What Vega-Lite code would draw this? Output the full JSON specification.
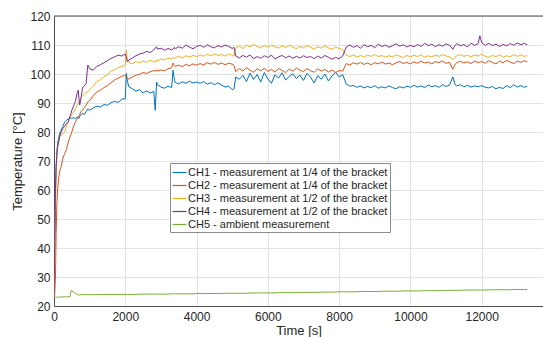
{
  "$schema": "https://vega.github.io/schema/vega-lite/v6.json",
  "width": 489,
  "height": 290,
  "autosize": {"type": "none"},
  "padding": {"left": 54, "top": 16, "right": 0, "bottom": 31},
  "background": "white",
  "config": {"view": {"stroke": null}, "font": "Liberation Sans"},
  "datasets": {
    "meas": [
      {"t":0,"CH1":23,"CH2":23,"CH3":23,"CH4":23,"CH5":23},
      {"t":20,"CH1":40,"CH2":24,"CH3":35,"CH4":40,"CH5":23},
      {"t":40,"CH1":58,"CH2":30,"CH3":55,"CH4":60,"CH5":23},
      {"t":60,"CH1":68,"CH2":45,"CH3":66,"CH4":68,"CH5":23.1},
      {"t":80,"CH1":73,"CH2":55,"CH3":72,"CH4":72,"CH5":23},
      {"t":100,"CH1":76,"CH2":60,"CH3":74.5,"CH4":74.9,"CH5":23.1},
      {"t":130,"CH1":78,"CH2":64,"CH3":76.5,"CH4":76.5,"CH5":23},
      {"t":160,"CH1":79.5,"CH2":66.5,"CH3":78.3,"CH4":78.5,"CH5":23.1},
      {"t":200,"CH1":80.5,"CH2":68,"CH3":79,"CH4":80,"CH5":23.1},
      {"t":250,"CH1":82,"CH2":71,"CH3":79.5,"CH4":81.2,"CH5":23.1},
      {"t":300,"CH1":83.5,"CH2":72.6,"CH3":80,"CH4":82,"CH5":23.2},
      {"t":350,"CH1":84,"CH2":74,"CH3":82,"CH4":83,"CH5":23.1},
      {"t":400,"CH1":84.5,"CH2":76.5,"CH3":83.5,"CH4":83.5,"CH5":23.2},
      {"t":450,"CH1":85,"CH2":78.3,"CH3":85,"CH4":85.5,"CH5":23.2},
      {"t":480,"CH1":84.8,"CH2":79.2,"CH3":85.5,"CH4":86.5,"CH5":25.3},
      {"t":500,"CH1":84.7,"CH2":80,"CH3":86,"CH4":87.5,"CH5":25.2},
      {"t":550,"CH1":85,"CH2":82,"CH3":86.8,"CH4":89,"CH5":24.8},
      {"t":600,"CH1":84.5,"CH2":83.5,"CH3":88,"CH4":90.5,"CH5":24.4},
      {"t":650,"CH1":85.2,"CH2":84.5,"CH3":89.3,"CH4":93.5,"CH5":24.0},
      {"t":680,"CH1":85.0,"CH2":85.0,"CH3":89.8,"CH4":94.4,"CH5":23.8},
      {"t":700,"CH1":84.7,"CH2":85.5,"CH3":90.5,"CH4":91.5,"CH5":23.7},
      {"t":720,"CH1":85.3,"CH2":86.0,"CH3":91.0,"CH4":89.3,"CH5":23.8},
      {"t":750,"CH1":86,"CH2":87,"CH3":91.8,"CH4":91,"CH5":24.0},
      {"t":800,"CH1":86.4,"CH2":87.5,"CH3":92.5,"CH4":95.2,"CH5":23.9},
      {"t":850,"CH1":86,"CH2":88.5,"CH3":93.0,"CH4":95.9,"CH5":23.9},
      {"t":900,"CH1":87,"CH2":89.3,"CH3":93.6,"CH4":96.7,"CH5":23.9},
      {"t":950,"CH1":88,"CH2":90.4,"CH3":93.9,"CH4":103.1,"CH5":23.9},
      {"t":1000,"CH1":87.5,"CH2":90.8,"CH3":94.5,"CH4":101.8,"CH5":23.9},
      {"t":1100,"CH1":88.3,"CH2":92.5,"CH3":95.8,"CH4":101.3,"CH5":23.9},
      {"t":1200,"CH1":88.9,"CH2":93.8,"CH3":97.4,"CH4":102.6,"CH5":23.9},
      {"t":1300,"CH1":88.6,"CH2":94.4,"CH3":98.0,"CH4":103.2,"CH5":24.0},
      {"t":1400,"CH1":89.5,"CH2":95.3,"CH3":99.0,"CH4":103.9,"CH5":24.0},
      {"t":1500,"CH1":89.2,"CH2":96.0,"CH3":99.8,"CH4":104.6,"CH5":24.0},
      {"t":1600,"CH1":90.1,"CH2":97.0,"CH3":101.0,"CH4":105.4,"CH5":24.0},
      {"t":1700,"CH1":90.6,"CH2":97.9,"CH3":101.5,"CH4":105.9,"CH5":24.0},
      {"t":1800,"CH1":90.2,"CH2":98.6,"CH3":102.2,"CH4":106.5,"CH5":24.0},
      {"t":1900,"CH1":91.3,"CH2":99.2,"CH3":102.6,"CH4":106.2,"CH5":24.0},
      {"t":2000,"CH1":91.5,"CH2":99.5,"CH3":103.1,"CH4":106.9,"CH5":24.0},
      {"t":2030,"CH1":100.2,"CH2":99.0,"CH3":108.3,"CH4":105.6,"CH5":24.0},
      {"t":2060,"CH1":97.5,"CH2":98.6,"CH3":104.6,"CH4":104.2,"CH5":24.0},
      {"t":2100,"CH1":95.6,"CH2":98.2,"CH3":104.0,"CH4":104.8,"CH5":24.0},
      {"t":2200,"CH1":94.9,"CH2":99.0,"CH3":103.5,"CH4":105.5,"CH5":24.0},
      {"t":2300,"CH1":94.1,"CH2":99.6,"CH3":104.3,"CH4":106.3,"CH5":24.0},
      {"t":2400,"CH1":94.6,"CH2":99.9,"CH3":103.8,"CH4":106.9,"CH5":24.1},
      {"t":2500,"CH1":93.5,"CH2":100.5,"CH3":104.5,"CH4":107.2,"CH5":24.1},
      {"t":2600,"CH1":94.2,"CH2":100.2,"CH3":104.0,"CH4":107.8,"CH5":24.1},
      {"t":2700,"CH1":93.4,"CH2":100.8,"CH3":104.8,"CH4":107.4,"CH5":24.1},
      {"t":2800,"CH1":94.0,"CH2":101.2,"CH3":104.3,"CH4":108.3,"CH5":24.1},
      {"t":2840,"CH1":87.5,"CH2":100.9,"CH3":104.0,"CH4":108.9,"CH5":24.1},
      {"t":2880,"CH1":97.2,"CH2":101.5,"CH3":104.9,"CH4":109.4,"CH5":24.1},
      {"t":2900,"CH1":96.3,"CH2":101.0,"CH3":104.5,"CH4":108.6,"CH5":24.1},
      {"t":3000,"CH1":95.5,"CH2":101.4,"CH3":105.2,"CH4":108.9,"CH5":24.1},
      {"t":3100,"CH1":95.1,"CH2":101.1,"CH3":104.8,"CH4":108.2,"CH5":24.1},
      {"t":3200,"CH1":95.8,"CH2":101.8,"CH3":105.5,"CH4":108.8,"CH5":24.1},
      {"t":3300,"CH1":95.3,"CH2":102.2,"CH3":105.2,"CH4":108.3,"CH5":24.2},
      {"t":3340,"CH1":101.3,"CH2":103.8,"CH3":105.8,"CH4":108.6,"CH5":24.2},
      {"t":3380,"CH1":97.9,"CH2":102.9,"CH3":105.3,"CH4":109.2,"CH5":24.2},
      {"t":3400,"CH1":97.1,"CH2":102.6,"CH3":105.6,"CH4":108.7,"CH5":24.2},
      {"t":3500,"CH1":96.6,"CH2":103.1,"CH3":106.1,"CH4":109.4,"CH5":24.2},
      {"t":3600,"CH1":97.3,"CH2":102.5,"CH3":105.5,"CH4":108.9,"CH5":24.2},
      {"t":3700,"CH1":96.8,"CH2":103.3,"CH3":106.3,"CH4":110.0,"CH5":24.2},
      {"t":3800,"CH1":97.5,"CH2":102.8,"CH3":105.8,"CH4":109.3,"CH5":24.2},
      {"t":3900,"CH1":96.9,"CH2":103.5,"CH3":106.4,"CH4":108.7,"CH5":24.2},
      {"t":4000,"CH1":97.2,"CH2":103.0,"CH3":106.0,"CH4":109.5,"CH5":24.3},
      {"t":4100,"CH1":96.8,"CH2":103.6,"CH3":106.6,"CH4":109.9,"CH5":24.3},
      {"t":4200,"CH1":97.4,"CH2":103.1,"CH3":106.1,"CH4":109.2,"CH5":24.3},
      {"t":4300,"CH1":96.5,"CH2":103.9,"CH3":106.8,"CH4":110.1,"CH5":24.3},
      {"t":4400,"CH1":97.0,"CH2":103.4,"CH3":106.3,"CH4":109.4,"CH5":24.3},
      {"t":4500,"CH1":96.3,"CH2":104.0,"CH3":106.9,"CH4":109.0,"CH5":24.3},
      {"t":4600,"CH1":96.9,"CH2":103.3,"CH3":106.4,"CH4":109.8,"CH5":24.3},
      {"t":4700,"CH1":96.2,"CH2":103.8,"CH3":106.7,"CH4":109.3,"CH5":24.3},
      {"t":4800,"CH1":95.5,"CH2":103.2,"CH3":106.2,"CH4":110.0,"CH5":24.4},
      {"t":4900,"CH1":95.8,"CH2":103.7,"CH3":106.8,"CH4":109.5,"CH5":24.4},
      {"t":5000,"CH1":94.6,"CH2":103.4,"CH3":106.5,"CH4":108.8,"CH5":24.4},
      {"t":5050,"CH1":94.9,"CH2":103.0,"CH3":106.1,"CH4":109.2,"CH5":24.4},
      {"t":5100,"CH1":99.0,"CH2":100.8,"CH3":109.0,"CH4":106.2,"CH5":24.4},
      {"t":5200,"CH1":98.2,"CH2":101.9,"CH3":109.6,"CH4":105.5,"CH5":24.4},
      {"t":5300,"CH1":99.5,"CH2":101.0,"CH3":108.8,"CH4":106.4,"CH5":24.4},
      {"t":5400,"CH1":97.4,"CH2":102.2,"CH3":109.9,"CH4":105.8,"CH5":24.4},
      {"t":5500,"CH1":100.3,"CH2":101.3,"CH3":109.3,"CH4":106.6,"CH5":24.5},
      {"t":5600,"CH1":98.1,"CH2":100.6,"CH3":110.2,"CH4":105.3,"CH5":24.5},
      {"t":5700,"CH1":99.8,"CH2":101.8,"CH3":109.5,"CH4":106.0,"CH5":24.5},
      {"t":5800,"CH1":97.2,"CH2":101.1,"CH3":109.0,"CH4":105.4,"CH5":24.5},
      {"t":5900,"CH1":100.5,"CH2":102.0,"CH3":109.8,"CH4":106.3,"CH5":24.5},
      {"t":6000,"CH1":98.3,"CH2":100.9,"CH3":109.2,"CH4":105.7,"CH5":24.5},
      {"t":6100,"CH1":96.8,"CH2":101.6,"CH3":110.0,"CH4":106.5,"CH5":24.5},
      {"t":6200,"CH1":99.7,"CH2":100.7,"CH3":109.4,"CH4":105.2,"CH5":24.5},
      {"t":6300,"CH1":98.6,"CH2":101.9,"CH3":108.9,"CH4":105.9,"CH5":24.6},
      {"t":6400,"CH1":100.4,"CH2":101.2,"CH3":109.7,"CH4":106.4,"CH5":24.6},
      {"t":6500,"CH1":97.9,"CH2":100.5,"CH3":109.1,"CH4":105.6,"CH5":24.6},
      {"t":6600,"CH1":99.2,"CH2":101.7,"CH3":109.9,"CH4":106.2,"CH5":24.6},
      {"t":6700,"CH1":100.1,"CH2":101.0,"CH3":109.3,"CH4":105.4,"CH5":24.6},
      {"t":6800,"CH1":98.4,"CH2":102.1,"CH3":108.7,"CH4":106.1,"CH5":24.6},
      {"t":6900,"CH1":99.6,"CH2":101.3,"CH3":109.5,"CH4":105.5,"CH5":24.7},
      {"t":7000,"CH1":97.8,"CH2":100.8,"CH3":109.0,"CH4":106.3,"CH5":24.7},
      {"t":7100,"CH1":100.2,"CH2":101.9,"CH3":109.8,"CH4":105.7,"CH5":24.7},
      {"t":7200,"CH1":98.9,"CH2":101.1,"CH3":109.2,"CH4":106.0,"CH5":24.7},
      {"t":7300,"CH1":96.9,"CH2":100.6,"CH3":108.6,"CH4":105.3,"CH5":24.7},
      {"t":7400,"CH1":99.4,"CH2":101.8,"CH3":109.4,"CH4":106.2,"CH5":24.7},
      {"t":7500,"CH1":98.2,"CH2":101.0,"CH3":108.9,"CH4":105.5,"CH5":24.8},
      {"t":7600,"CH1":100.0,"CH2":101.6,"CH3":109.7,"CH4":106.4,"CH5":24.8},
      {"t":7700,"CH1":97.6,"CH2":100.7,"CH3":109.0,"CH4":105.8,"CH5":24.8},
      {"t":7800,"CH1":99.3,"CH2":101.4,"CH3":108.5,"CH4":105.1,"CH5":24.8},
      {"t":7900,"CH1":100.6,"CH2":100.5,"CH3":109.3,"CH4":105.7,"CH5":24.8},
      {"t":8000,"CH1":99.0,"CH2":101.2,"CH3":108.8,"CH4":105.3,"CH5":24.9},
      {"t":8100,"CH1":99.8,"CH2":101.0,"CH3":108.4,"CH4":106.2,"CH5":24.9},
      {"t":8200,"CH1":96.6,"CH2":103.6,"CH3":106.5,"CH4":109.3,"CH5":24.9},
      {"t":8300,"CH1":95.8,"CH2":103.1,"CH3":106.0,"CH4":110.0,"CH5":24.9},
      {"t":8400,"CH1":96.1,"CH2":103.9,"CH3":106.6,"CH4":109.2,"CH5":24.9},
      {"t":8500,"CH1":95.4,"CH2":103.4,"CH3":105.8,"CH4":109.8,"CH5":24.9},
      {"t":8600,"CH1":95.9,"CH2":104.0,"CH3":106.4,"CH4":108.9,"CH5":25.0},
      {"t":8700,"CH1":95.2,"CH2":103.3,"CH3":105.9,"CH4":110.1,"CH5":25.0},
      {"t":8800,"CH1":95.7,"CH2":103.8,"CH3":106.5,"CH4":109.4,"CH5":25.0},
      {"t":8900,"CH1":95.3,"CH2":103.2,"CH3":106.1,"CH4":109.9,"CH5":25.0},
      {"t":9000,"CH1":96.0,"CH2":103.9,"CH3":106.7,"CH4":109.1,"CH5":25.0},
      {"t":9100,"CH1":95.1,"CH2":103.5,"CH3":106.0,"CH4":110.3,"CH5":25.0},
      {"t":9200,"CH1":95.6,"CH2":104.1,"CH3":106.4,"CH4":109.5,"CH5":25.1},
      {"t":9300,"CH1":95.2,"CH2":103.4,"CH3":105.8,"CH4":110.0,"CH5":25.1},
      {"t":9400,"CH1":95.9,"CH2":103.8,"CH3":106.3,"CH4":109.2,"CH5":25.1},
      {"t":9500,"CH1":95.3,"CH2":103.2,"CH3":105.9,"CH4":109.8,"CH5":25.1},
      {"t":9600,"CH1":94.9,"CH2":103.9,"CH3":106.6,"CH4":110.4,"CH5":25.1},
      {"t":9700,"CH1":95.6,"CH2":104.3,"CH3":106.1,"CH4":109.6,"CH5":25.1},
      {"t":9800,"CH1":95.2,"CH2":103.6,"CH3":105.7,"CH4":110.1,"CH5":25.2},
      {"t":9900,"CH1":95.8,"CH2":104.0,"CH3":106.4,"CH4":109.3,"CH5":25.2},
      {"t":10000,"CH1":95.4,"CH2":103.5,"CH3":105.9,"CH4":109.9,"CH5":25.2},
      {"t":10100,"CH1":96.1,"CH2":104.2,"CH3":106.5,"CH4":109.4,"CH5":25.2},
      {"t":10200,"CH1":95.5,"CH2":103.7,"CH3":106.0,"CH4":110.2,"CH5":25.2},
      {"t":10300,"CH1":95.9,"CH2":104.4,"CH3":106.6,"CH4":109.5,"CH5":25.2},
      {"t":10400,"CH1":95.3,"CH2":103.8,"CH3":105.8,"CH4":110.6,"CH5":25.3},
      {"t":10500,"CH1":96.2,"CH2":104.1,"CH3":106.3,"CH4":109.8,"CH5":25.3},
      {"t":10600,"CH1":95.6,"CH2":103.5,"CH3":105.9,"CH4":110.3,"CH5":25.3},
      {"t":10700,"CH1":96.0,"CH2":104.3,"CH3":106.5,"CH4":109.4,"CH5":25.3},
      {"t":10800,"CH1":95.4,"CH2":103.9,"CH3":106.1,"CH4":110.1,"CH5":25.3},
      {"t":10900,"CH1":96.3,"CH2":104.5,"CH3":106.7,"CH4":109.6,"CH5":25.3},
      {"t":11000,"CH1":95.7,"CH2":103.7,"CH3":106.2,"CH4":110.4,"CH5":25.4},
      {"t":11100,"CH1":96.2,"CH2":104.0,"CH3":106.0,"CH4":109.9,"CH5":25.4},
      {"t":11190,"CH1":99.0,"CH2":101.6,"CH3":105.0,"CH4":108.5,"CH5":25.4},
      {"t":11250,"CH1":96.4,"CH2":103.2,"CH3":105.8,"CH4":109.8,"CH5":25.4},
      {"t":11300,"CH1":95.9,"CH2":103.9,"CH3":106.2,"CH4":110.5,"CH5":25.4},
      {"t":11400,"CH1":96.3,"CH2":104.4,"CH3":106.7,"CH4":109.7,"CH5":25.4},
      {"t":11500,"CH1":95.6,"CH2":103.8,"CH3":106.1,"CH4":110.2,"CH5":25.5},
      {"t":11600,"CH1":96.1,"CH2":104.2,"CH3":106.5,"CH4":109.3,"CH5":25.5},
      {"t":11700,"CH1":95.5,"CH2":103.6,"CH3":105.9,"CH4":110.6,"CH5":25.5},
      {"t":11800,"CH1":95.9,"CH2":104.5,"CH3":106.6,"CH4":109.9,"CH5":25.5},
      {"t":11900,"CH1":95.6,"CH2":103.9,"CH3":106.2,"CH4":110.5,"CH5":25.5},
      {"t":11950,"CH1":95.8,"CH2":104.1,"CH3":106.5,"CH4":113.2,"CH5":25.5},
      {"t":12000,"CH1":96.0,"CH2":104.3,"CH3":106.8,"CH4":110.8,"CH5":25.5},
      {"t":12100,"CH1":95.4,"CH2":103.7,"CH3":106.1,"CH4":109.9,"CH5":25.5},
      {"t":12200,"CH1":95.2,"CH2":104.6,"CH3":105.7,"CH4":110.6,"CH5":25.6},
      {"t":12300,"CH1":95.7,"CH2":104.0,"CH3":106.4,"CH4":109.8,"CH5":25.6},
      {"t":12400,"CH1":94.9,"CH2":103.5,"CH3":106.0,"CH4":110.3,"CH5":25.6},
      {"t":12500,"CH1":95.4,"CH2":104.4,"CH3":106.6,"CH4":109.5,"CH5":25.6},
      {"t":12600,"CH1":95.0,"CH2":103.9,"CH3":105.8,"CH4":110.2,"CH5":25.6},
      {"t":12700,"CH1":96.0,"CH2":104.7,"CH3":106.3,"CH4":109.7,"CH5":25.6},
      {"t":12800,"CH1":95.3,"CH2":104.1,"CH3":105.9,"CH4":110.5,"CH5":25.6},
      {"t":12900,"CH1":96.3,"CH2":103.6,"CH3":106.7,"CH4":109.9,"CH5":25.7},
      {"t":13000,"CH1":95.5,"CH2":104.5,"CH3":106.1,"CH4":110.7,"CH5":25.7},
      {"t":13100,"CH1":96.0,"CH2":104.0,"CH3":106.6,"CH4":110.1,"CH5":25.7},
      {"t":13200,"CH1":95.4,"CH2":104.6,"CH3":106.0,"CH4":110.6,"CH5":25.7},
      {"t":13280,"CH1":95.8,"CH2":104.2,"CH3":106.4,"CH4":110.0,"CH5":25.7}
    ],
    "frame": [{"top": 120}]
  },
  "layer": [
    {
      "data": {"name": "meas"},
      "transform": [{"fold": ["CH1", "CH2", "CH3", "CH4", "CH5"], "as": ["series", "value"]}],
      "mark": {"type": "line", "strokeWidth": 1, "clip": true},
      "encoding": {
        "x": {
          "field": "t", "type": "quantitative",
          "scale": {"domain": [0, 13720], "nice": false},
          "axis": {
            "title": "Time [s]", "values": [0, 2000, 4000, 6000, 8000, 10000, 12000],
            "format": "d", "labelOverlap": false,
            "grid": true, "gridColor": "#e2e2e2", "domainColor": "#4d4d4d",
            "ticks": false, "labelFontSize": 12, "labelColor": "#262626",
            "labelPadding": 5, "titleFontSize": 13, "titleFontWeight": "normal",
            "titleColor": "#262626", "titlePadding": 2, "labelFlush": false
          }
        },
        "y": {
          "field": "value", "type": "quantitative",
          "scale": {"domain": [20, 120], "nice": false, "zero": false},
          "axis": {
            "title": "Temperature [°C]", "values": [20, 30, 40, 50, 60, 70, 80, 90, 100, 110, 120],
            "format": "d", "labelOverlap": false,
            "grid": true, "gridColor": "#e2e2e2", "domainColor": "#4d4d4d",
            "ticks": false, "labelFontSize": 12, "labelColor": "#262626",
            "labelPadding": 4, "titleFontSize": 13, "titleFontWeight": "normal",
            "titleColor": "#262626", "titlePadding": 5, "labelFlush": false
          }
        },
        "color": {
          "field": "series", "type": "nominal",
          "scale": {
            "domain": ["CH1", "CH2", "CH3", "CH4", "CH5"],
            "range": ["#0072BD", "#D95319", "#EDB120", "#7E2F8E", "#77AC30"]
          },
          "legend": {
            "orient": "none", "legendX": 116, "legendY": 147,
            "title": null, "symbolType": "stroke", "symbolSize": 190,
            "symbolStrokeWidth": 1.2, "labelFontSize": 11, "labelColor": "#262626",
            "labelOffset": 1, "labelLimit": 400, "rowPadding": 0, "padding": 2,
            "strokeColor": "#8c8c8c", "fillColor": "white",
            "labelExpr": "datum.label == 'CH1' ? 'CH1 - measurement at 1/4 of the bracket' : datum.label == 'CH2' ? 'CH2 - measurement at 1/4 of the bracket' : datum.label == 'CH3' ? 'CH3 - measurement at 1/2 of the bracket' : datum.label == 'CH4' ? 'CH4 - measurement at 1/2 of the bracket' : 'CH5 - ambient measurement'"
          }
        }
      }
    },
    {
      "data": {"name": "frame"},
      "mark": {"type": "rule", "color": "#4d4d4d", "strokeWidth": 1},
      "encoding": {
        "y": {
          "field": "top", "type": "quantitative",
          "scale": {"domain": [20, 120], "nice": false, "zero": false},
          "axis": {
            "title": "Temperature [°C]", "values": [20, 30, 40, 50, 60, 70, 80, 90, 100, 110, 120],
            "format": "d", "labelOverlap": false,
            "grid": true, "gridColor": "#e2e2e2", "domainColor": "#4d4d4d",
            "ticks": false, "labelFontSize": 12, "labelColor": "#262626",
            "labelPadding": 4, "titleFontSize": 13, "titleFontWeight": "normal",
            "titleColor": "#262626", "titlePadding": 5, "labelFlush": false
          }
        }
      }
    }
  ]
}
